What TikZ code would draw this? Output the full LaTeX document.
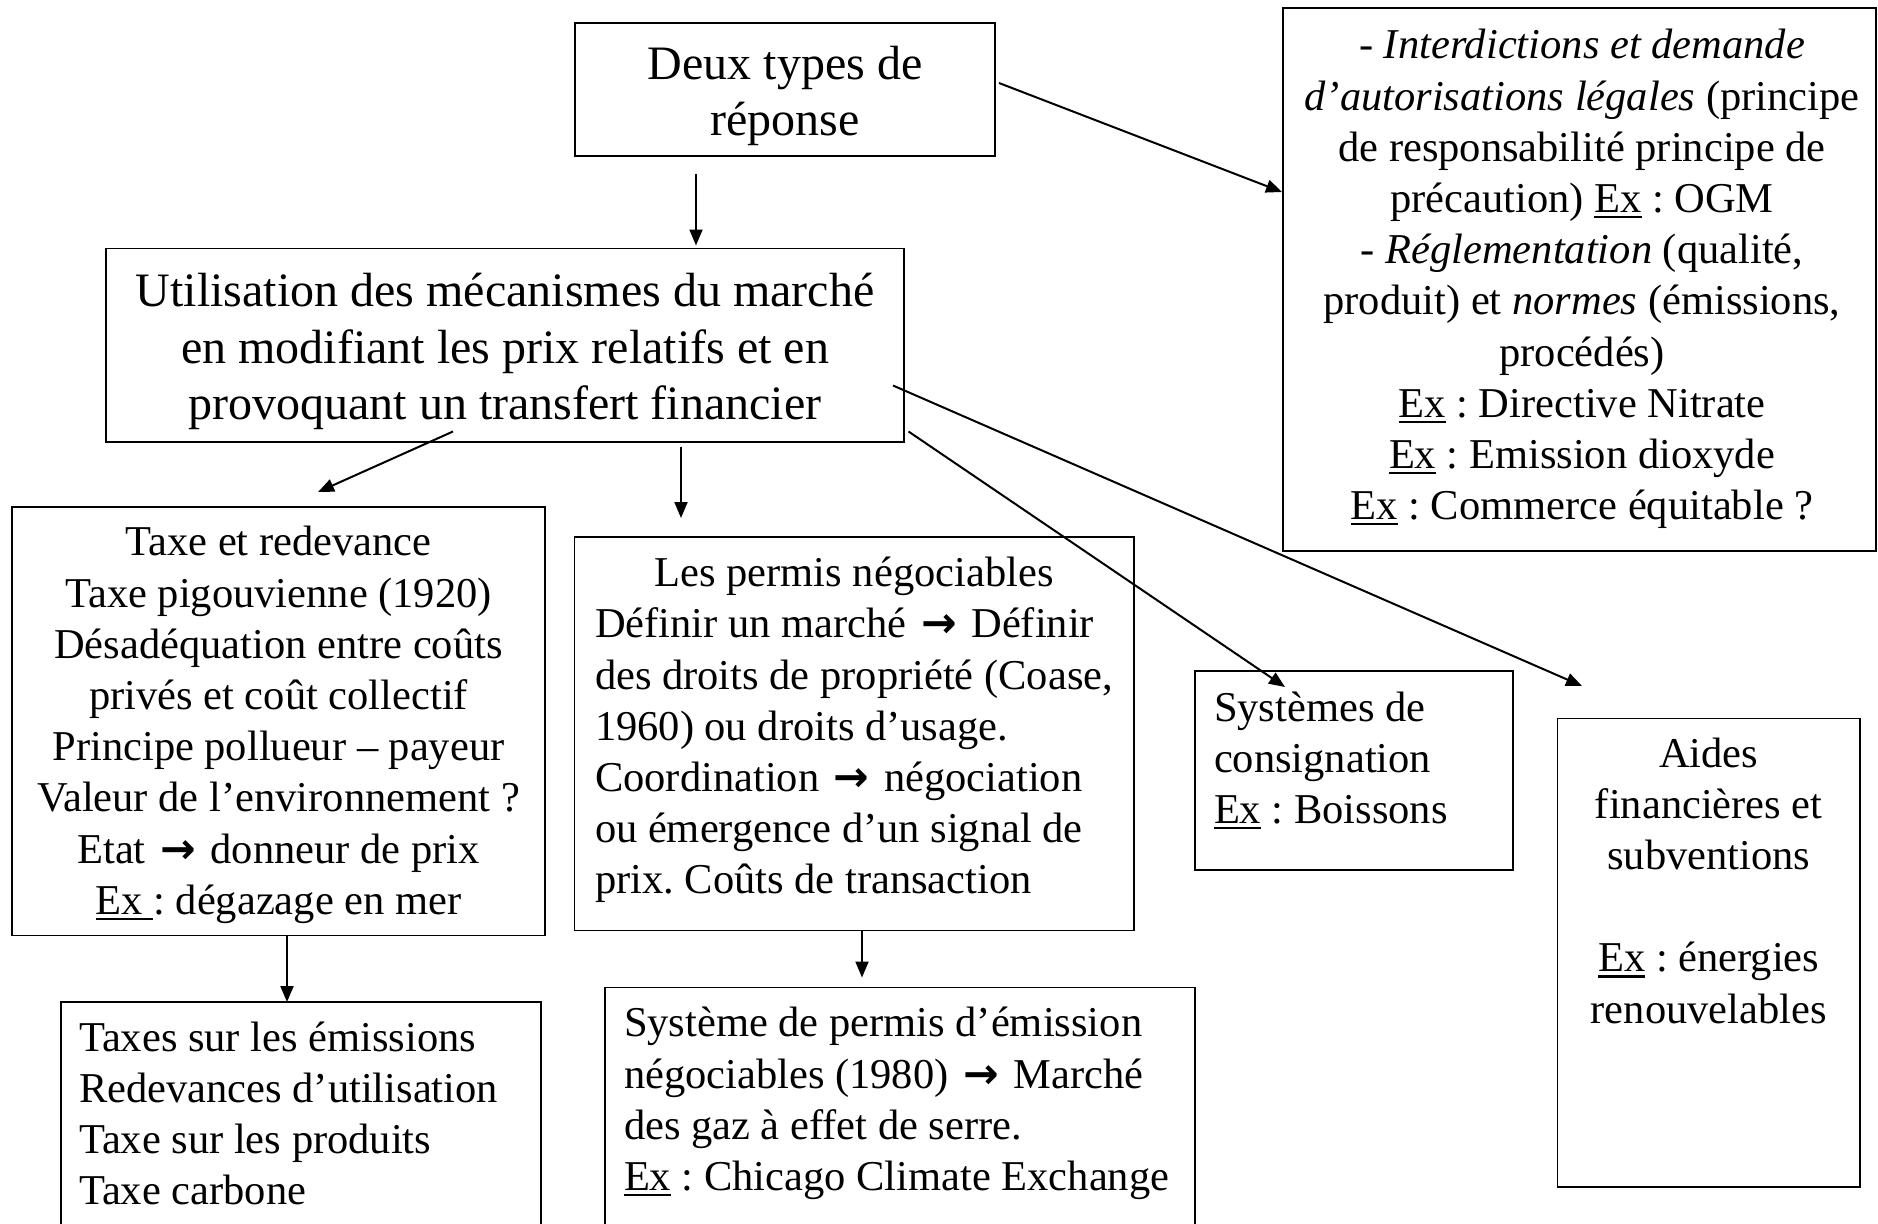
\documentclass[tikz,border=0pt]{standalone}
\usepackage{fontspec}
\setmainfont{Liberation Serif}
\newfontfamily\dvsfont{DejaVu Sans}
\usetikzlibrary{arrows.meta}
\frenchspacing
\newcommand\smallf{\fontsize{42.5}{51.2}\selectfont}
\newcommand\bigf{\fontsize{48}{56.6}\selectfont}
\newcommand\ctrlines[1]{\vtop{\halign{\hfil##\hfil\cr#1\crcr}}}
\newcommand\leftlines[1]{\vtop{\halign{##\hfil\cr#1\crcr}}}
\newsavebox\exubox
\newcommand\exu[1]{\sbox\exubox{#1}\rlap{\rule[-5.8pt]{\wd\exubox}{2.2pt}}\usebox\exubox}
\newcommand\wdarr{\kern4pt{\dvsfont\bfseries →}\kern4pt}
\begin{document}
\begin{tikzpicture}[x=1pt,y=-1pt,
  box/.style={draw, line width=1.4pt, rectangle, inner sep=0pt, outer sep=0pt},
  txt/.style={inner sep=0pt, outer sep=0pt, font=\smallf},
  conn/.style={line width=2pt, -{Triangle[length=16pt,width=13pt]}}]

\useasboundingbox[fill=white] (0,0) rectangle (1878,1223);

% boxes
\node[box, minimum width=420pt, minimum height=133pt] (deux) at (785,89.5) {};
\node[box, minimum width=798pt, minimum height=193.5pt] (util) at (505,345.25) {};
\node[box, minimum width=593pt, minimum height=543pt] (regl) at (1579.5,279.5) {};
\node[box, minimum width=533pt, minimum height=428.5pt] (taxe) at (278.5,721.25) {};
\node[box, minimum width=559.5pt, minimum height=393.5pt] (permis) at (854.25,733.75) {};
\node[box, minimum width=318pt, minimum height=199pt] (consign) at (1354,770.5) {};
\node[box, minimum width=302.5pt, minimum height=468.5pt] (aides) at (1708.75,952.75) {};
\node[box, minimum width=480pt, minimum height=248pt] (taxlist) at (301,1126) {};
\node[box, minimum width=590pt, minimum height=262.5pt] (ets) at (900,1118.75) {};

% texts
\node[txt, font=\bigf, anchor=base] (deuxT) at (785,79.3)
  {\ctrlines{Deux types de\cr réponse}};
\node[txt, font=\bigf, anchor=base] (utilT) at (505,306.7)
  {\ctrlines{Utilisation des mécanismes du marché\cr en modifiant les prix relatifs et en\cr provoquant un transfert financier}};
\node[txt, anchor=base] (reglT) at (1582,58.8)
  {\ctrlines{- \textit{Interdictions et demande}\cr \textit{d’autorisations légales} (principe\cr de responsabilité principe de\cr précaution) \exu{Ex} : OGM\cr - \textit{Réglementation} (qualité,\cr produit) et \textit{normes} (émissions,\cr procédés)\cr \exu{Ex} : Directive Nitrate\cr \exu{Ex} : Emission dioxyde\cr \exu{Ex} : Commerce équitable ?}};
\node[txt, anchor=base] (taxeT) at (278.5,555.8)
  {\ctrlines{Taxe et redevance\cr Taxe pigouvienne (1920)\cr Désadéquation entre coûts\cr privés et coût collectif\cr Principe pollueur – payeur\cr Valeur de l’environnement ?\cr Etat \wdarr{} donneur de prix\cr \exu{Ex }: dégazage en mer}};
\node[txt, anchor=base west] (permisT) at (595,586.6)
  {\leftlines{\omit\hfil Les permis négociables\hfil\cr Définir un marché \wdarr{} Définir\cr des droits de propriété (Coase,\cr 1960) ou droits d’usage.\cr Coordination \wdarr{} négociation\cr ou émergence d’un signal de\cr prix. Coûts de transaction}};
\node[txt, anchor=base west] (consignT) at (1214,721)
  {\leftlines{Systèmes de\cr consignation\cr \exu{Ex} : Boissons}};
\node[txt, anchor=base] (aidesT) at (1708.75,767)
  {\ctrlines{Aides\cr financières et\cr subventions\cr \cr \exu{Ex} : énergies\cr renouvelables}};
\node[txt, anchor=base west] (taxlistT) at (79,1051)
  {\leftlines{Taxes sur les émissions\cr Redevances d’utilisation\cr Taxe sur les produits\cr Taxe carbone}};
\node[txt, anchor=base west] (etsT) at (624,1036.9)
  {\leftlines{Système de permis d’émission\cr négociables (1980) \wdarr{} Marché\cr des gaz à effet de serre.\cr \exu{Ex} : Chicago Climate Exchange}};

% connector end points
\coordinate (c1s) at (696,174);   \coordinate (c1e) at (696,245.5);
\coordinate (c2s) at (999,83);    \coordinate (c2e) at (1282,192);
\coordinate (c3s) at (453,431.5); \coordinate (c3e) at (318,492);
\coordinate (c4s) at (681,447);   \coordinate (c4e) at (681,518);
\coordinate (c5s) at (908.5,431.5); \coordinate (c5e) at (1285,687);
\coordinate (c6s) at (893,385.5); \coordinate (c6e) at (1582,686);
\coordinate (c7s) at (287,935.5); \coordinate (c7e) at (287,1002);
\coordinate (c8s) at (862,930.5); \coordinate (c8e) at (862,977.5);

\draw[conn] (c1s) -- (c1e);
\draw[conn] (c2s) -- (c2e);
\draw[conn] (c3s) -- (c3e);
\draw[conn] (c4s) -- (c4e);
\draw[conn] (c5s) -- (c5e);
\draw[conn] (c6s) -- (c6e);
\draw[conn] (c7s) -- (c7e);
\draw[conn] (c8s) -- (c8e);
\end{tikzpicture}
\end{document}
